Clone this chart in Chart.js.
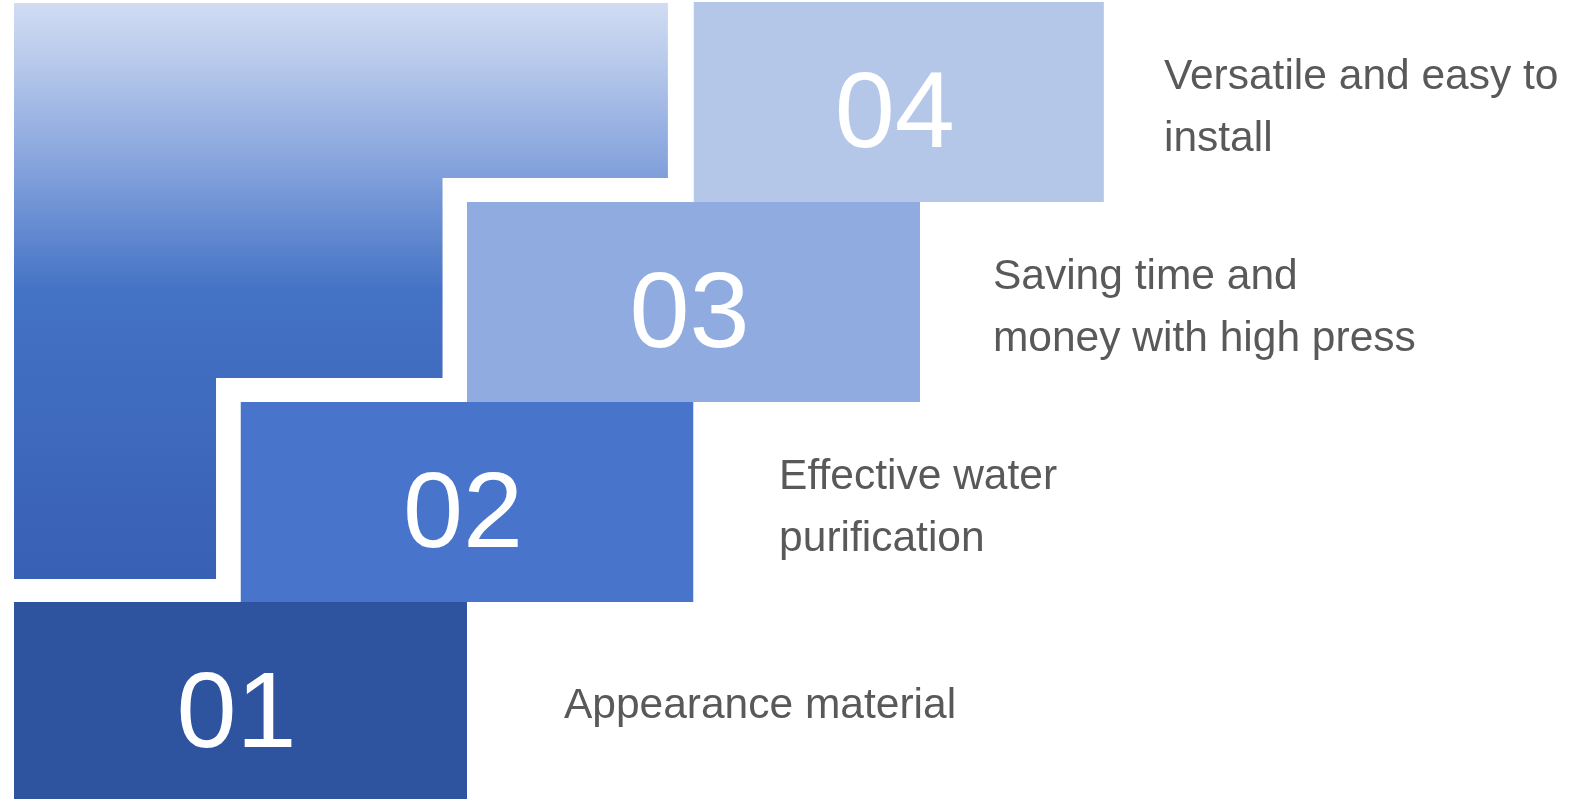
<!DOCTYPE html>
<html>
<head>
<meta charset="utf-8">
<script src="https://cdn.jsdelivr.net/npm/chart.js@4.4.1/dist/chart.umd.min.js"></script>
<style>
    html, body { margin: 0; padding: 0; background: #ffffff; }
    .wrap { width: 1591px; height: 799px; position: relative; }
</style>
</head>
<body>
<div class="wrap"><canvas id="stepChart"></canvas></div>
<script>
// step numbers and descriptions
const steps = ['01', '02', '03', '04'];
const descriptions = [
    ['Appearance material'],
    ['Effective water', 'purification'],
    ['Saving time and', 'money with high press'],
    ['Versatile and easy to', 'install']
];
const boxStart = [0, 1, 2, 3];
const boxEnd = [2, 3, 4, 4.812];
const boxLevel = [0, 1, 2, 3];
const boxColors = ['#2E54A0', '#4874CB', '#8FABE0', '#B4C7E9'];

// staircase (gradient) outline: x of each step and its bottom edge
const stairX = [0, 0.892, 1.892, 2.887];
const stairBottom = [1.115, 2.12, 3.12, 3.12];
const stairTop = 3.995;

// where the description text starts
const labelX = [2.428, 3.378, 4.322, 5.077];

const datasets = [];

steps.forEach((s, i) => {
    datasets.push({
        label: 'Step ' + s,
        data: [{x: boxStart[i], y: boxLevel[i] + 1}, {x: boxEnd[i], y: boxLevel[i] + 1}],
        borderWidth: 0,
        borderColor: 'rgba(0,0,0,0)',
        pointRadius: 0,
        backgroundColor: boxColors[i],
        fill: {value: i === 0 ? boxLevel[i] - 0.05 : boxLevel[i]}
    });
});

datasets.push({
    label: 'Stairs',
    data: stairX.map((x, i) => ({x: x, y: stairBottom[i]})),
    stepped: true,
    borderWidth: 0,
    borderColor: 'rgba(0,0,0,0)',
    pointRadius: 0,
    fill: {value: stairTop},
    backgroundColor: function (context) {
        const chart = context.chart;
        const yScale = chart.scales.y;
        if (!chart.chartArea || !yScale) return '#4472C4';
        const top = yScale.getPixelForValue(stairTop);
        const bottom = yScale.getPixelForValue(stairBottom[0]);
        if (!isFinite(top) || !isFinite(bottom)) return '#4472C4';
        const g = chart.ctx.createLinearGradient(0, top, 0, bottom);
        g.addColorStop(0, '#D1DCF2');
        g.addColorStop(0.12, '#B3C6EA');
        g.addColorStop(0.3, '#809FDB');
        g.addColorStop(0.5, '#4472C4');
        g.addColorStop(1, '#3860B4');
        return g;
    }
});

// Draw the numbers and the descriptions
const textPlugin = {
    id: 'stepText',
    afterDatasetsDraw(chart) {
        const ctx = chart.ctx;
        const xs = chart.scales.x;
        const ys = chart.scales.y;
        ctx.save();
        steps.forEach((s, i) => {
            const cx = xs.getPixelForValue((boxStart[i] + boxEnd[i]) / 2);
            const cy = ys.getPixelForValue(boxLevel[i] + 0.5);
            ctx.fillStyle = '#ffffff';
            ctx.font = '108px "Liberation Sans", Arial, sans-serif';
            ctx.textAlign = 'center';
            ctx.textBaseline = 'alphabetic';
            ctx.fillText(s, cx - 4, cy + 45);

            const lines = descriptions[i];
            const lx = xs.getPixelForValue(labelX[i]);
            const lineH = 62;
            ctx.fillStyle = '#595959';
            ctx.font = '42.5px "Liberation Sans", Arial, sans-serif';
            ctx.textAlign = 'left';
            ctx.textBaseline = 'middle';
            const shift = lines.length > 1 ? 6 : 4;
            lines.forEach((t, j) => {
                ctx.fillText(t, lx, cy + shift + (j - (lines.length - 1) / 2) * lineH);
            });
        });
        ctx.restore();
    }
};

new Chart(document.getElementById('stepChart'), {
    type: 'line',
    data: {datasets: datasets},
    options: {
        responsive: true,
        maintainAspectRatio: false,
        animation: false,
        layout: {padding: 0},
        scales: {
            x: {type: 'linear', min: -0.0618, max: 6.9625, display: false},
            y: {type: 'linear', min: 0.015, max: 4.01, display: false}
        },
        plugins: {
            legend: {display: false},
            tooltip: {enabled: false}
        }
    },
    plugins: [textPlugin]
});
</script>
</body>
</html>
